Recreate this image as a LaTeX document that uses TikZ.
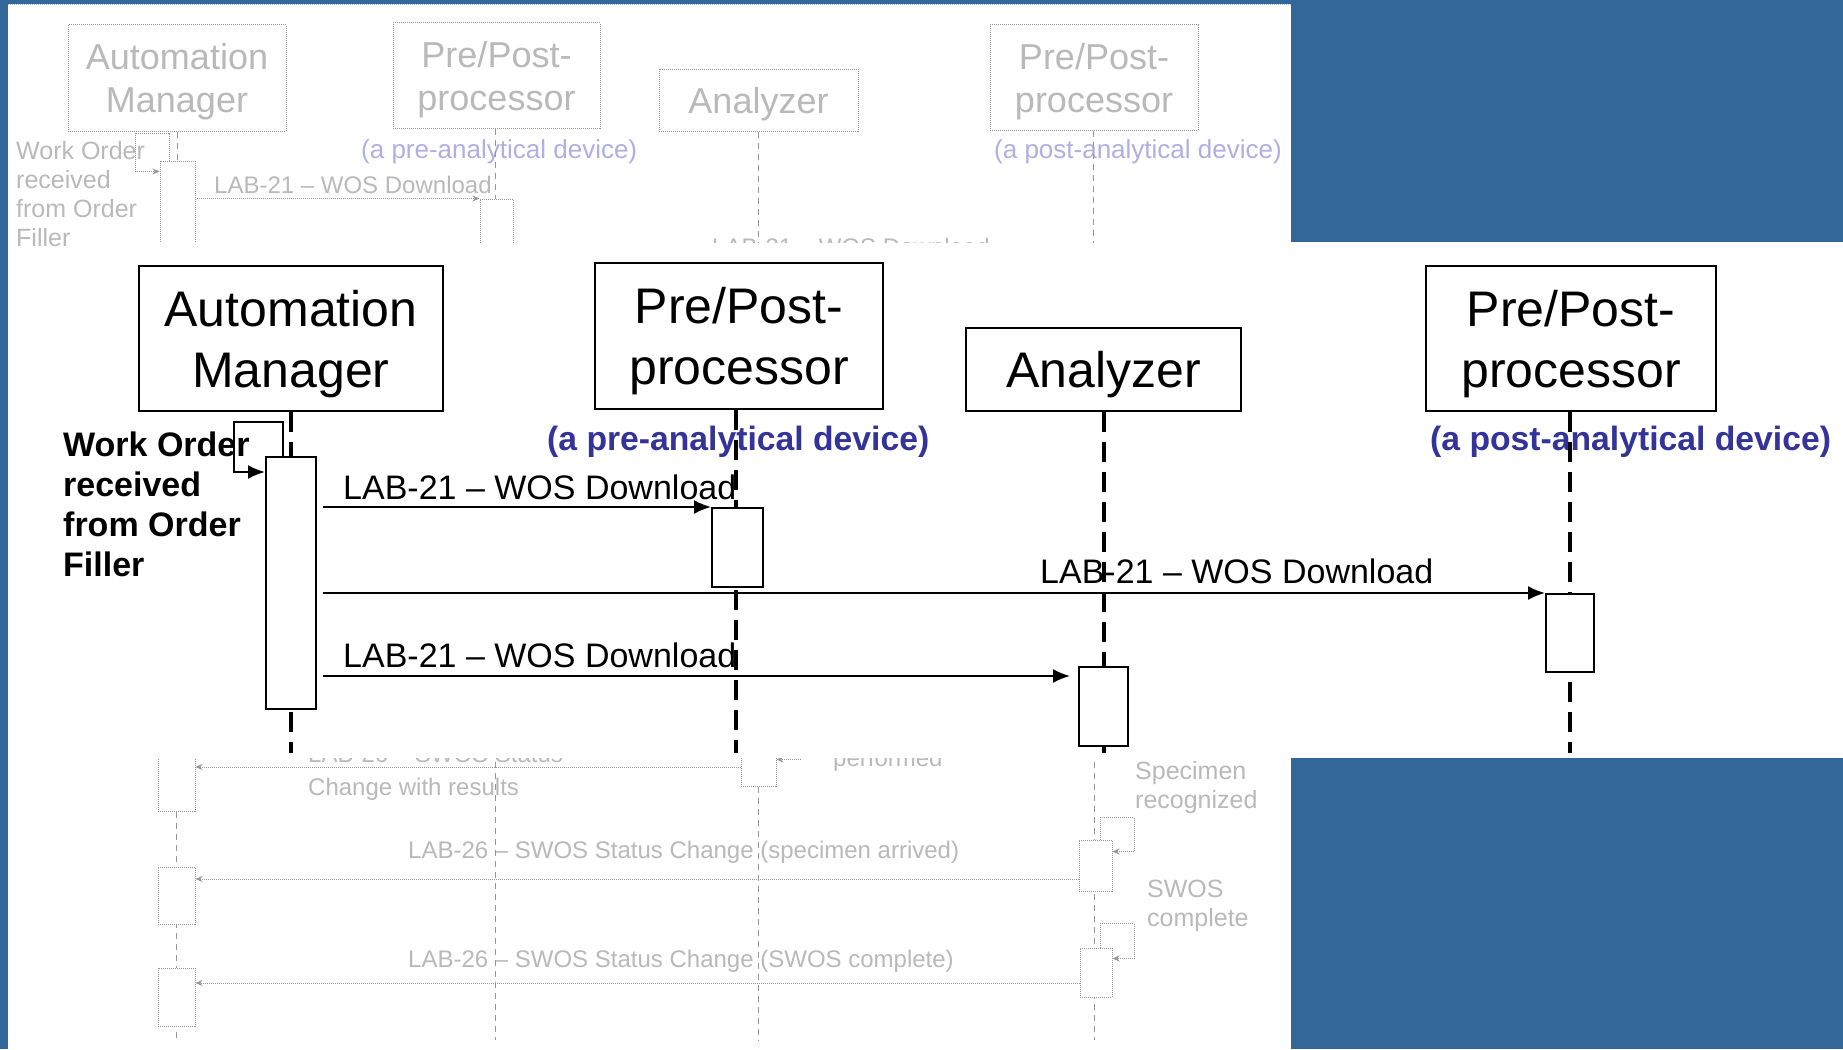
\documentclass[tikz,border=0pt]{standalone}
\usepackage{fontspec}
\setmainfont{Liberation Sans}
\usetikzlibrary{arrows.meta,calc}
\definecolor{bgblue}{RGB}{51,102,153}
\definecolor{devblue}{RGB}{51,51,153}
\definecolor{fadegray}{RGB}{185,185,185}
\definecolor{fadeline}{RGB}{150,150,150}
\definecolor{fadeblue}{RGB}{175,175,225}
\begin{document}
\begin{tikzpicture}[x=1pt,y=-1pt,
  box/.style={draw=black,line width=2.5pt,fill=white,inner sep=0pt,align=center,text depth=0pt,font=\fontsize{50}{61}\selectfont},
  act/.style={draw=black,line width=2pt,fill=white,inner sep=0pt},
  life/.style={draw=black,line width=4pt,dash pattern=on 20pt off 10pt},
  msg/.style={draw=black,line width=2pt,-{Latex[length=17pt,width=14pt]}},
  lbl/.style={inner sep=0pt,anchor=base west,font=\fontsize{34}{40}\selectfont},
  note/.style={inner sep=0pt,anchor=north west,align=left,font=\bfseries\fontsize{34}{40}\selectfont},
  dev/.style={inner sep=0pt,anchor=base west,text=devblue,font=\bfseries\fontsize{33.7}{40}\selectfont},
  fbox/.style={draw=fadeline,densely dotted,line width=1pt,fill=white,inner sep=0pt,align=center,text depth=0pt,text=fadegray,font=\fontsize{36}{43}\selectfont},
  fact/.style={draw=fadeline,densely dotted,line width=1pt,fill=white,inner sep=0pt},
  fl/.style={draw=fadeline,line width=1pt,dash pattern=on 6pt off 5pt},
  farr/.style={draw=fadeline,densely dotted,line width=1pt,-{Stealth[length=7pt,width=6pt]}},
  ftxt/.style={inner sep=0pt,anchor=base west,text=fadegray,font=\fontsize{24}{29}\selectfont},
  fdev/.style={inner sep=0pt,anchor=base west,text=fadeblue,font=\fontsize{26}{30}\selectfont},
  fnote/.style={inner sep=0pt,anchor=north west,align=left,text=fadegray,font=\fontsize{25}{29}\selectfont},
]
\useasboundingbox (0,0) rectangle (1843,1049);
% background
\fill[bgblue] (0,0) rectangle (1843,1049);
\fill[white] (8,4) rectangle (1291,1049);
\fill[white] (8,242) rectangle (1843,758);
\draw[white!60!bgblue,densely dotted,line width=1pt] (8,5) -- (1291,5);

% ---------- faded top part ----------
\begin{scope}
\clip (8,4) rectangle (1291,242);
\coordinate (fbot) at (0,260);
\node[fbox,minimum width=218pt,minimum height=106pt] (fam) at (177,78) {Automation\\Manager};
\node[fbox,minimum width=207pt,minimum height=105pt] (fpp1) at (496.5,75.5) {Pre/Post-\\processor};
\node[fbox,minimum width=199pt,minimum height=62pt] (fan) at (758.5,100) {Analyzer};
\node[fbox,minimum width=208pt,minimum height=105pt] (fpp2) at (1094,77.5) {Pre/Post-\\processor};
\node[fdev] (fpre) at (361,158) {(a pre-analytical device)};
\node[fdev] (fpost) at (994,158) {(a post-analytical device)};
\node[ftxt] (fl1) at (214,193) {LAB-21 – WOS Download};
\node[ftxt] (fl2) at (712,255) {LAB-21 – WOS Download};
\draw[fl] (fam.south) -- (fam.south |- fbot);
\draw[fl] ([xshift=-1.5pt]fpp1.south) -- ([xshift=-1.5pt]fpp1.south |- fbot);
\draw[fl] (fan.south) -- (fan.south |- fbot);
\draw[fl] ([xshift=-1pt]fpp2.south) -- ([xshift=-1pt]fpp2.south |- fbot);
\node[fact,minimum width=35pt,minimum height=138pt] (fa1) at (177.5,230) {};
\node[fact,minimum width=33pt,minimum height=101pt] (fp1) at (496.5,249.5) {};
\draw[farr] ($(fa1.east |- fp1.north west)+(1,0)$) -- (fp1.north west);
\draw[farr] ([xshift=-8pt]fa1.north) -- ++(0,-27) -- ++(-34,0) -- ++(0,38) -- ([yshift=-11pt]fa1.north west);
\end{scope}
\node[fnote] (fwo) at (16,141.5) {Work Order\\received\\from Order\\Filler};

% ---------- faded bottom part ----------
\begin{scope}
\clip (8,758) rectangle (1291,1049);
\coordinate (fe) at (0,1040);
\coordinate (bpp) at (495,740);
\coordinate (ban) at (1094,740);
\node[ftxt] (fb0) at (308,762) {LAB-26 – SWOS Status};
\node[ftxt] (fbc) at (308,795) {Change with results};
\node[ftxt] (fbperf) at (833,766) {performed};
\node[ftxt] (fbl1) at (408,858) {LAB-26 – SWOS Status Change (specimen arrived)};
\node[ftxt] (fbl2) at (408,967) {LAB-26 – SWOS Status Change (SWOS complete)};
\node[fnote] (fspec) at (1135,761) {Specimen\\recognized};
\node[fnote] (fswos) at (1147,880) {SWOS\\complete};
\node[fact,minimum width=37pt,minimum height=71pt] (fb1) at (176.5,775.5) {};
\node[fact,minimum width=35pt,minimum height=46pt] (fbp) at (758.5,763) {};
\draw[fl] (fb1.south) -- (fb1.south |- fe);
\draw[fl] (bpp) -- (bpp |- fe);
\draw[fl] (fbp.south) -- (fbp.south |- fe);
\draw[fl] (ban) -- (ban |- fe);
\node[fact,minimum width=37pt,minimum height=57pt] (fb2) at (176.5,895.5) {};
\node[fact,minimum width=37pt,minimum height=58pt] (fb3) at (176.5,997) {};
\node[fact,minimum width=33pt,minimum height=51pt] (fq1) at (1095.5,865.5) {};
\node[fact,minimum width=32pt,minimum height=49pt] (fq2) at (1096,972.5) {};
\draw[farr] ([yshift=-4pt]fbp.west) -- ([yshift=-4pt]fbp.west -| fb1.east);
\draw[farr] ([yshift=-13.5pt]fq1.west) -- ([yshift=-13.5pt]fq1.west -| fb2.east);
\draw[farr] ([yshift=-10.5pt]fq2.west) -- ([yshift=-10.5pt]fq2.west -| fb3.east);
\draw[farr] ([xshift=24pt,yshift=-20pt]fbp.north east) -- ([yshift=-20pt]fbp.north east);
\draw[farr] ([xshift=4.5pt]fq1.north) -- ++(0,-22) -- ++(34,0) -- ++(0,34) -- ([yshift=-12pt]fq1.north east);
\draw[farr] ([xshift=4pt]fq2.north) -- ++(0,-24) -- ++(34,0) -- ++(0,35) -- ([yshift=-11pt]fq2.north east);
\end{scope}

% ---------- main band ----------
\coordinate (bot) at (0,753);
\node[box,minimum width=304pt,minimum height=145pt] (am) at (291,338.5) {Automation\\Manager};
\node[box,minimum width=288pt,minimum height=146pt] (pp1) at (739,336) {Pre/Post-\\processor};
\node[box,minimum width=275pt,minimum height=83pt] (an) at (1103.5,369.5) {Analyzer};
\node[box,minimum width=290pt,minimum height=145pt] (pp2) at (1571,338.5) {Pre/Post-\\processor};

\node[note] (wo) at (63,432) {Work Order\\received\\from Order\\Filler};
\node[dev] (pre) at (547,450) {(a pre-analytical device)};
\node[dev] (post) at (1430,450) {(a post-analytical device)};
\node[lbl] (l1) at (343,499) {LAB-21 – WOS Download};
\node[lbl] (l2) at (1040,583) {LAB-21 – WOS Download};
\node[lbl] (l3) at (343,667) {LAB-21 – WOS Download};

\draw[life] (am.south) -- (am.south |- bot);
\draw[life] ([xshift=-3pt]pp1.south) -- ([xshift=-3pt]pp1.south |- bot);
\draw[life] (an.south) -- (an.south |- bot);
\draw[life] ([xshift=-1pt]pp2.south) -- ([xshift=-1pt]pp2.south |- bot);

\node[act,minimum width=50pt,minimum height=252pt] (a1) at (291,583) {};
\node[act,minimum width=51pt,minimum height=79pt] (a2) at (737.5,547.5) {};
\node[act,minimum width=48pt,minimum height=78pt] (a3) at (1570,633) {};
\node[act,minimum width=49pt,minimum height=79pt] (a4) at (1103.5,706.5) {};

\draw[msg] ([xshift=-8pt]a1.north) -- ++(0,-34) -- ++(-49,0) -- ++(0,50) -- ([yshift=-16pt]a1.north west);
\draw[msg] ($(a1.east |- a2.north west)+(6,0)$) -- (a2.north west);
\draw[msg] ($(a1.east |- a3.north west)+(6,0)$) -- (a3.north west);
\coordinate (m3) at ([yshift=-10pt]a4.north west);
\draw[msg,shorten >=8pt] ($(a1.east |- m3)+(6,0)$) -- (m3);
\end{tikzpicture}
\end{document}
